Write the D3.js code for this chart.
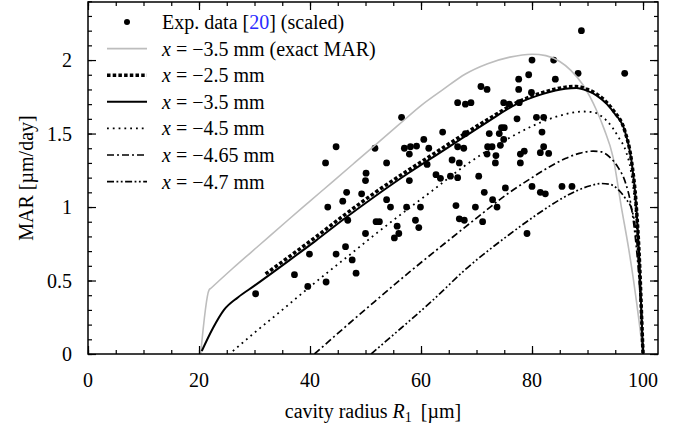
<!DOCTYPE html>
<html>
<head>
<meta charset="utf-8">
<script src="https://cdn.jsdelivr.net/npm/d3@7"></script>
<style>
  body { margin: 0; background: #fff; }
  svg text { font-family: "Liberation Serif", "Times New Roman", Times, "DejaVu Serif", serif; fill: #000; }
</style>
</head>
<body>
<div id="chart"></div>
<script>
// Experimental data points [R1 (µm), MAR (µm/day)]
const expData = [
  [30.2,0.41],[37.2,0.54],[39.9,0.68],[39.6,0.46],[42.9,0.49],[44.7,0.68],[46.4,0.73],
  [43.2,1.00],[45.9,1.04],[42.8,1.30],[44.7,1.41],[46.6,1.10],[46.8,0.91],[47.6,0.64],
  [48.3,0.55],[50.0,0.82],[49.3,1.09],[50.1,1.23],[50.0,1.18],[51.7,1.40],[51.9,0.90],
  [52.5,0.90],[53.8,1.30],[53.8,1.05],[54.5,1.00],[55.7,0.87],[56.0,0.82],[55.2,0.79],
  [56.5,1.61],[57.0,1.40],[58.1,1.41],[59.2,1.415],[60.5,1.46],[61.4,1.40],[57.9,1.36],
  [57.9,1.18],[57.4,1.00],[59.9,1.00],[59.0,0.91],[59.6,0.86],[62.7,1.22],[63.5,1.195],
  [65.3,1.21],[66.6,1.20],[63.9,1.51],[65.6,1.32],[66.9,1.30],[66.6,1.41],[67.7,1.40],
  [66.3,1.01],[66.9,0.92],[67.8,0.91],[66.6,1.71],[68.0,1.70],[69.0,1.71],[68.0,1.50],
  [69.8,1.00],[70.4,1.21],[70.8,1.82],[71.9,1.80],[71.1,0.90],[71.4,1.10],[72.9,1.05],
  [73.7,1.00],[72.3,1.50],[72.0,1.41],[72.8,1.41],[71.9,1.36],[73.5,1.35],[73.4,1.30],
  [74.1,1.50],[74.3,1.42],[74.5,1.54],[75.0,1.54],[74.9,1.46],[74.9,1.71],[75.9,1.70],
  [75.2,1.13],[77.7,1.71],[77.3,1.60],[77.6,1.87],[77.6,1.80],[77.9,1.36],[78.6,1.38],
  [77.9,1.30],[79.4,1.90],[79.9,1.78],[80.0,2.00],[80.8,1.61],[80.0,1.14],[79.1,0.82],
  [81.5,1.10],[82.4,1.09],[81.8,1.51],[82.1,1.61],[82.1,1.41],[81.5,1.37],[83.0,1.365],
  [83.9,2.00],[84.2,1.87],[85.4,1.14],[87.2,1.14],[88.3,1.91],[88.9,2.20],[96.7,1.91],
  [61.1,1.29]
];

// Model curves
const exactMAR = [
  [20.3,0],[21.8,0.435],[22.2,0.449],[26,0.58],[31,0.745],[36,0.91],[40,1.04],[44,1.17],
  [48,1.30],[52,1.43],[56,1.56],[60,1.69],[64,1.80],[68,1.905],[72,1.975],[76,2.02],[80,2.04],
  [82.5,2.03],[85,1.99],[87,1.93],[89.2,1.83],[91.6,1.66],[93,1.53],[94.6,1.34],[96.1,1.0],
  [97.4,0.72],[98.3,0.5],[99.3,0.22],[100,0]
];
const xm25 = [
  [32,0.545],[36,0.655],[41,0.795],[46,0.94],[51.6,1.095],[57.9,1.255],[62.4,1.365],
  [67.5,1.49],[72,1.595],[77.2,1.71],[82,1.78],[86,1.815],[88,1.82],[90,1.80],[91.6,1.77],
  [93.5,1.71],[94.8,1.65],[96.7,1.52],[97.9,1.32],[98.8,1.0],[99.4,0.6],[99.8,0.2],[100,0]
];
const xm35 = [
  [20.5,0.02],[22.5,0.175],[24.5,0.30],[27,0.385],[30,0.465],[36,0.63],[41,0.77],[46,0.915],
  [51.6,1.07],[57.9,1.235],[62.4,1.345],[67.5,1.47],[72,1.58],[77.2,1.70],[82,1.77],
  [86,1.805],[88,1.81],[90,1.79],[91.6,1.76],[93.5,1.70],[94.8,1.64],[96.7,1.52],[97.9,1.32],
  [98.8,1.0],[99.4,0.6],[99.8,0.2],[100,0]
];
const xm45 = [
  [26.1,0.02],[30,0.145],[35,0.30],[39.6,0.445],[43.5,0.565],[47,0.67],[51.6,0.81],
  [57.6,0.985],[62,1.11],[67.5,1.27],[72,1.385],[75.9,1.47],[80,1.55],[84,1.61],[87,1.64],
  [89.2,1.65],[91,1.645],[92.8,1.61],[94.5,1.54],[95.5,1.48],[97,1.37],[97.8,1.25],
  [98.6,1.0],[99.3,0.6],[99.8,0.2],[100,0]
];
const xm465 = [
  [40.8,0],[45,0.14],[51.6,0.355],[58,0.56],[64.2,0.75],[70,0.925],[75.6,1.09],[80,1.20],
  [83,1.27],[86,1.33],[88.5,1.365],[91,1.38],[92.5,1.375],[94,1.34],[95.5,1.27],[96.8,1.17],
  [97.8,1.02],[98.6,0.8],[99.3,0.5],[99.8,0.18],[100,0]
];
const xm47 = [
  [51.0,0],[55,0.13],[62.1,0.365],[68,0.575],[75.8,0.81],[81.9,0.975],[85,1.05],[88,1.11],
  [90.5,1.145],[92.5,1.16],[94,1.155],[95.5,1.12],[96.8,1.06],[98,0.98],[98.8,0.8],
  [99.4,0.5],[99.8,0.2],[100,0]
];

const xTicks = [0, 20, 40, 60, 80, 100];
const yTicks = [0, 0.5, 1, 1.5, 2];
const yTickLabels = ["0", "0.5", "1", "1.5", "2"];

const series = [
  { label: "−3.5 mm", note: " (exact MAR)", data: exactMAR, color: "#bdbdbd", width: 1.6, dash: null },
  { label: "−2.5 mm", note: "", data: xm25, color: "#000", width: 3.5, dash: "3.5,2.2" },
  { label: "−3.5 mm", note: "", data: xm35, color: "#000", width: 2, dash: null },
  { label: "−4.5 mm", note: "", data: xm45, color: "#000", width: 1.8, dash: "1.8,4" },
  { label: "−4.65 mm", note: "", data: xm465, color: "#000", width: 1.7, dash: "7,3,2,3" },
  { label: "−4.7 mm", note: "", data: xm47, color: "#000", width: 1.7, dash: "7,2.5,1.8,2.5,1.8,2.5" }
];

const FONT = "'Liberation Serif', 'Times New Roman', Times, 'DejaVu Serif', serif";

const margin = { top: 2, right: 29, bottom: 80, left: 88 };
const width = 687 - margin.left - margin.right;
const height = 434 - margin.top - margin.bottom;

const svgRoot = d3.select("#chart").append("svg")
    .attr("width", 687)
    .attr("height", 434)
    .attr("font-family", FONT);
const svg = svgRoot.append("g")
    .attr("transform", `translate(${margin.left},${margin.top})`);

const x = d3.scaleLinear().domain([0, 102.7]).range([0, width]);
const y = d3.scaleLinear().domain([0, 2.395]).range([height, 0]);

// Clip for curves
svg.append("clipPath").attr("id", "clip")
  .append("rect").attr("width", width).attr("height", height);

const line = d3.line()
    .x(d => x(d[0]))
    .y(d => y(d[1]))
    .curve(d3.curveMonotoneX);

const plot = svg.append("g").attr("clip-path", "url(#clip)");

// Scatter points
plot.append("g")
  .selectAll("circle")
  .data(expData)
  .enter()
  .append("circle")
  .attr("cx", d => x(d[0]))
  .attr("cy", d => y(d[1]))
  .attr("r", 3.4)
  .attr("fill", "#000");

// Curves
plot.append("g")
  .selectAll("path")
  .data(series)
  .enter()
  .append("path")
  .attr("d", d => line(d.data))
  .attr("fill", "none")
  .attr("stroke", d => d.color)
  .attr("stroke-width", d => d.width)
  .attr("stroke-dasharray", d => d.dash);

// Axes with inward ticks on all four sides
const minorX = d3.range(0, 103, 5);
const minorY = d3.range(0, 2.41, 0.1);

function tickAxis(axisGen, g) {
  g.call(axisGen);
  g.select(".domain").remove();
  g.selectAll("line").attr("stroke", "#000").attr("stroke-width", 1.2);
}

tickAxis(d3.axisBottom(x).tickValues(minorX).tickSize(-4).tickFormat(""),
  svg.append("g").attr("transform", `translate(0,${height})`));
tickAxis(d3.axisBottom(x).tickValues(xTicks).tickSize(-8).tickFormat(""),
  svg.append("g").attr("transform", `translate(0,${height})`));
tickAxis(d3.axisTop(x).tickValues(minorX).tickSize(-4).tickFormat(""), svg.append("g"));
tickAxis(d3.axisTop(x).tickValues(xTicks).tickSize(-8).tickFormat(""), svg.append("g"));
tickAxis(d3.axisLeft(y).tickValues(minorY).tickSize(-4).tickFormat(""), svg.append("g"));
tickAxis(d3.axisLeft(y).tickValues(yTicks).tickSize(-8).tickFormat(""), svg.append("g"));
tickAxis(d3.axisRight(y).tickValues(minorY).tickSize(-4).tickFormat(""),
  svg.append("g").attr("transform", `translate(${width},0)`));
tickAxis(d3.axisRight(y).tickValues(yTicks).tickSize(-8).tickFormat(""),
  svg.append("g").attr("transform", `translate(${width},0)`));

// Frame
svg.append("rect")
  .attr("width", width)
  .attr("height", height)
  .attr("fill", "none")
  .attr("stroke", "#000")
  .attr("stroke-width", 1.5);

// Tick labels
svg.append("g").selectAll("text")
  .data(xTicks)
  .enter()
  .append("text")
  .attr("x", d => x(d))
  .attr("y", height + 33)
  .attr("text-anchor", "middle")
  .attr("font-size", 20)
  .attr("font-family", FONT)
  .text(d => d);

svg.append("g").selectAll("text")
  .data(yTicks)
  .enter()
  .append("text")
  .attr("x", -16)
  .attr("y", d => y(d) + 7)
  .attr("text-anchor", "end")
  .attr("font-size", 20)
  .attr("font-family", FONT)
  .text((d, i) => yTickLabels[i]);

// Axis titles
const xt = svg.append("text")
  .attr("x", width / 2)
  .attr("y", height + 64)
  .attr("text-anchor", "middle")
  .attr("font-size", 20)
  .attr("font-family", FONT);
xt.append("tspan").text("cavity radius ");
xt.append("tspan").attr("font-style", "italic").text("R");
xt.append("tspan").attr("font-size", 14).attr("dy", 4).text("1");
xt.append("tspan").attr("dy", -4).text("\u2009 [µm]");

svg.append("text")
  .attr("transform", `translate(-55,${height / 2}) rotate(-90)`)
  .attr("text-anchor", "middle")
  .attr("font-size", 20)
  .attr("font-family", FONT)
  .text("MAR [µm/day]");

// Legend
const legend = svg.append("g");
const rowY = i => 20 + i * 26.6;
const lx0 = 107 - margin.left, lx1 = 147 - margin.left, tx = 162 - margin.left;

legend.append("circle")
  .attr("cx", (lx0 + lx1) / 2)
  .attr("cy", rowY(0))
  .attr("r", 3)
  .attr("fill", "#000");
const t0 = legend.append("text")
  .attr("x", tx).attr("y", rowY(0) + 7).attr("font-size", 20)
  .attr("font-family", FONT);
t0.append("tspan").text("Exp. data [");
t0.append("tspan").attr("fill", "#2b2bff").text("20");
t0.append("tspan").text("] (scaled)");

series.forEach((s, i) => {
  const yy = rowY(i + 1);
  legend.append("line")
    .attr("x1", lx0).attr("x2", lx1)
    .attr("y1", yy).attr("y2", yy)
    .attr("stroke", s.color)
    .attr("stroke-width", s.width)
    .attr("stroke-dasharray", s.dash);
  const t = legend.append("text")
    .attr("x", tx).attr("y", yy + 7).attr("font-size", 20)
    .attr("font-family", FONT);
  t.append("tspan").attr("font-style", "italic").text("x");
  t.append("tspan").text(" = " + s.label + s.note);
});
</script>
</body>
</html>
